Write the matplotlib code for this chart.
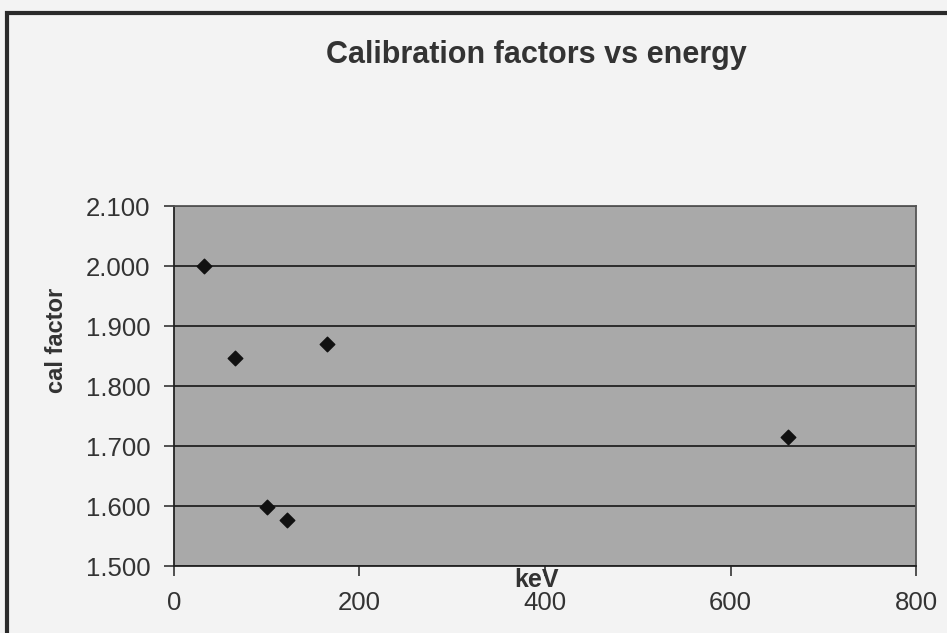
import matplotlib.pyplot as plt
from matplotlib.patches import Rectangle

# datos
energia = [32, 66, 100, 122, 165, 662]
factor_cal = [2.000, 1.847, 1.598, 1.577, 1.870, 1.715]
xticks = [0, 200, 400, 600, 800]
yticks = [1.5, 1.6, 1.7, 1.8, 1.9, 2.0, 2.1]

plt.rcParams['font.family'] = ['Liberation Sans', 'DejaVu Sans']

fig = plt.figure(figsize=(9.47, 6.33), dpi=100)
fig.patch.set_facecolor('#f3f3f3')

# marco del grafico
fig.add_artist(Rectangle((0.007, -0.01), 1.2, 0.99, transform=fig.transFigure,
                         fill=False, edgecolor='#2a2a2a', linewidth=3))

ax = fig.add_axes([0.1837, 0.1058, 0.7836, 0.5687])
ax.set_facecolor('#a9a9a9')

ax.scatter(energia, factor_cal, marker='D', s=55, color='#111111', zorder=3)

ax.set_xlim(0, 800)
ax.set_ylim(1.5, 2.1)
ax.set_xticks(xticks)
ax.set_yticks(yticks)
ax.set_yticklabels(['%.3f' % v for v in yticks])
ax.grid(axis='y', color='#222222', linewidth=1.3)
ax.set_axisbelow(True)
ax.tick_params(direction='out', length=7, width=1.2, colors='#333333',
               labelsize=18.5, labelcolor='#333333')
ax.tick_params(axis='x', pad=11)
ax.tick_params(axis='y', pad=10)

for s in ax.spines.values():
    s.set_color('#555555')
    s.set_linewidth(1.3)
ax.spines['left'].set_color('#222222')
ax.spines['bottom'].set_color('#222222')

fig.text(0.566, 0.913, 'Calibration factors vs energy', ha='center', va='center',
         fontsize=22, fontweight='bold', color='#333333')
fig.text(0.566, 0.084, 'keV', ha='center', va='center',
         fontsize=18, fontweight='bold', color='#333333')
fig.text(0.06, 0.463, 'cal factor', ha='center', va='center', rotation=90,
         fontsize=17, fontweight='bold', color='#333333')

plt.savefig('out.png', dpi=100, facecolor=fig.get_facecolor())
